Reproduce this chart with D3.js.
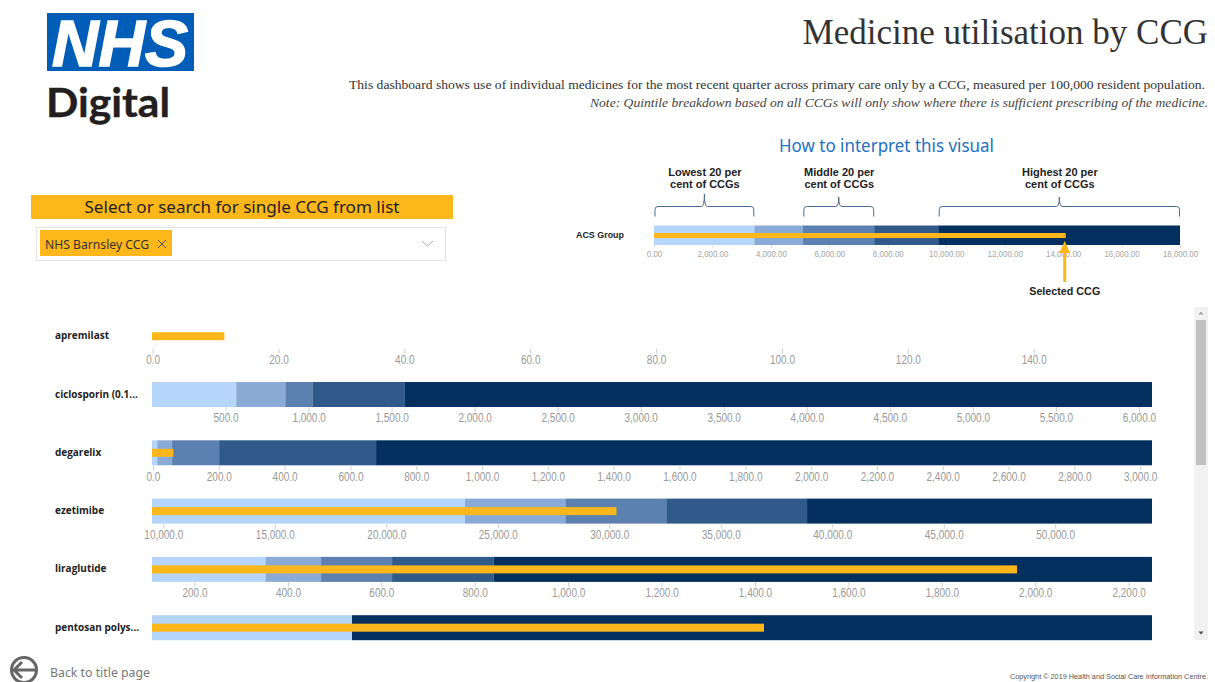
<!DOCTYPE html>
<html><head><meta charset="utf-8">
<script src="https://cdn.jsdelivr.net/npm/d3@7/dist/d3.min.js"></script>
<style>html,body{margin:0;padding:0;background:#fff;overflow:hidden}svg{display:block}</style>
</head><body><svg id="c" width="1215" height="682"></svg>
<script>
// ---- data ----
const medicines = ["apremilast","ciclosporin (0.1...","degarelix","ezetimibe","liraglutide","pentosan polys..."];
const domainStart = [-0.1, 57, -3, 9493, 109, 0];
const domainEnd   = [158.8, 6079, 3036, 54340, 2250, 1000];
const tickStep    = [20, 500, 200, 5000, 200, 0];
const band1 = [null, 564, 13, 23529, 352, 200];
const band2 = [null, 860, 58, 28031, 471, 200];
const band3 = [null, 1023, 201, 32556, 623, 200];
const band4 = [null, 1580, 678, 38870, 840, 200];
const selected = [11.4, null, 62, 30323, 1961, 612];
const bandColours = ["#b5d5fb","#8aabd6","#5c80b0","#2f5a8a","#03305f"];
const orange = "#fdb71a";

const exampleBands = [3432, 5093, 7534, 9726];
const exampleMax = 18000, exampleSelected = 14090;
const exampleTicks = [0,2000,4000,6000,8000,10000,12000,14000,16000,18000];
const braces = [
  {from:0, to:3432, lines:["Lowest 20 per","cent of CCGs"], top:194},
  {from:5093, to:7534, lines:["Middle 20 per","cent of CCGs"], top:197},
  {from:9726, to:18000, lines:["Highest 20 per","cent of CCGs"], top:197}
];

const svg = d3.select("#c");
const sans = "'Liberation Sans',Arial,sans-serif", ui = "'Noto Sans',sans-serif", serif = "'Liberation Serif',serif";
function txt(s,x,y,size,fill,opt={}){
  const t = svg.append("text").attr("x",x).attr("y",y).text(s)
    .style("font-family",opt.family||ui).style("font-size",size+"px").style("fill",fill)
    .style("font-weight",opt.weight||"normal").style("font-style",opt.italic?"italic":"normal")
    .attr("text-anchor",opt.anchor||"start").attr("dominant-baseline",opt.base||"auto");
  if(opt.width) t.attr("textLength",opt.width).attr("lengthAdjust","spacingAndGlyphs");
  return t;
}
function squeeze(sel,k){ sel.each(function(){ const w=this.getComputedTextLength();
  d3.select(this).attr("textLength",w*k).attr("lengthAdjust","spacingAndGlyphs"); }); }

// logo
svg.append("rect").attr("x",47).attr("y",13).attr("width",147).attr("height",58).attr("fill","#005eb8");
txt("NHS",52,66,64,"#fff",{family:sans,weight:"bold",italic:true,width:136}).style("stroke","#fff").style("stroke-width",1.6);
txt("Digital",46,117,40,"#231f20",{family:"Lato,sans-serif",weight:"bold",width:124}).style("stroke","#231f20").style("stroke-width",0.4);

// header
txt("Medicine utilisation by CCG",1208,44,35,"#333",{family:serif,anchor:"end"});
txt("This dashboard shows use of individual medicines for the most recent quarter across primary care only by a CCG, measured per 100,000 resident population.",1205,89,13.2,"#333",{family:serif,anchor:"end",width:856});
txt("Note: Quintile breakdown based on all CCGs will only show where there is sufficient prescribing of the medicine.",1208,107,13.2,"#444",{family:serif,anchor:"end",italic:true,width:618});
txt("How to interpret this visual",779,152,17.5,"#2470c2",{family:ui,width:215});

// slicer
svg.append("rect").attr("x",31).attr("y",195).attr("width",422).attr("height",24).attr("fill",orange);
txt("Select or search for single CCG from list",242,213,16.5,"#222",{anchor:"middle",width:315});
svg.append("rect").attr("x",36.5).attr("y",227.5).attr("width",409).attr("height",33).attr("fill","#fff").attr("stroke","#e4e4e4");
svg.append("rect").attr("x",40).attr("y",230).attr("width",132).attr("height",26).attr("fill",orange);
txt("NHS Barnsley CCG",45,249,12.5,"#333",{width:104});
svg.append("path").attr("d","M158,240L166,248M166,240L158,248").attr("stroke","#555").attr("fill","none");
svg.append("path").attr("d","M422,241L427.5,246L433,241").attr("stroke","#aaa").attr("fill","none");

// example bullet
const ex = d3.scaleLinear().domain([0,exampleMax]).range([654,1180]);
const exY = 225.5, exH = 19.5;
[0,...exampleBands].forEach((b,i)=>{
  const e = i<exampleBands.length?exampleBands[i]:exampleMax;
  svg.append("rect").attr("x",ex(b)).attr("y",exY).attr("width",ex(e)-ex(b)).attr("height",exH).attr("fill",bandColours[i]);
});
svg.append("rect").attr("x",ex(0)).attr("y",233).attr("width",ex(exampleSelected)-ex(0)).attr("height",5).attr("fill",orange);
const exAxis = svg.append("g").attr("transform",`translate(0,${exY+exH})`)
  .call(d3.axisBottom(ex).tickValues(exampleTicks).tickFormat(d3.format(",.2f")).tickSize(3).tickPadding(3));
exAxis.select(".domain").remove();
exAxis.selectAll("line").attr("stroke","#ddd");
exAxis.selectAll("text").style("font-family",sans).style("font-size","9px").style("fill","#a5a5a5").call(squeeze,0.88);
txt("ACS Group",600,237.5,9,"#222",{family:sans,weight:"bold",anchor:"middle",width:48});
braces.forEach(b=>{
  const x0=ex(b.from)+1, x1=ex(b.to)-0.5, m=(x0+x1)/2, y=206.5, bot=216.5, r=3;
  svg.append("path").attr("fill","none").attr("stroke","#4a6a92").attr("stroke-width",1)
    .attr("d",`M${x0},${bot}V${y+r}Q${x0},${y} ${x0+r},${y}H${m-3}Q${m},${y} ${m},${b.top}Q${m},${y} ${m+3},${y}H${x1-r}Q${x1},${y} ${x1},${y+r}V${bot}`);
  b.lines.forEach((l,i)=>txt(l,m+0.5,176+i*12,11,"#222",{family:sans,weight:"bold",anchor:"middle"}));
});
const ax = ex(exampleSelected)-1;
svg.append("path").attr("fill","none").attr("stroke",orange).attr("stroke-width",3).attr("d",`M${ax},282V246`);
svg.append("path").attr("fill",orange).attr("d",`M${ax},241L${ax-5.5},253H${ax+5.5}Z`);
txt("Selected CCG",ax,295,10,"#222",{family:sans,weight:"bold",anchor:"middle",width:71});

// medicine rows
const rowTop = d3.scaleLinear().domain([0,1]).range([323.7,382]);
const left = 152, right = 1152, rowH = 25;
const rows = svg.append("g");
medicines.forEach((m,i)=>{
  const x = d3.scaleLinear().domain([domainStart[i],domainEnd[i]]).range([left,right]);
  const top = rowTop(i);
  const g = rows.append("g").attr("transform",`translate(0,${top})`);
  if(band1[i]!==null){
    const edges=[domainStart[i],band1[i],band2[i],band3[i],band4[i],domainEnd[i]];
    bandColours.forEach((c,k)=>g.append("rect").attr("x",x(edges[k])).attr("y",0)
      .attr("width",x(edges[k+1])-x(edges[k])).attr("height",rowH).attr("fill",c));
  }
  if(selected[i]!==null)
    g.append("rect").attr("x",left).attr("y",8.5).attr("width",x(selected[i])-left).attr("height",8).attr("fill",orange);
  if(tickStep[i]>0){
    const first=Math.ceil(domainStart[i]/tickStep[i])*tickStep[i];
    const a=g.append("g").attr("transform",`translate(0,${rowH})`)
      .call(d3.axisBottom(x).tickValues(d3.range(Math.max(first,0),domainEnd[i],tickStep[i])).tickFormat(d3.format(",.1f")).tickSize(5).tickPadding(1.5));
    a.select(".domain").remove();
    a.selectAll("line").attr("stroke","#d0d0d0");
    a.selectAll("text").style("font-family",sans).style("font-size","12.5px").style("fill","#999").call(squeeze,0.8);
  }
  txt(m,55,top+15.5,10.5,"#222",{family:"'Open Sans',sans-serif",weight:"bold"}).call(squeeze,0.95);
});

// scrollbar
svg.append("rect").attr("x",1194).attr("y",307).attr("width",14).attr("height",333).attr("fill","#f1f1f1");
svg.append("rect").attr("x",1196).attr("y",320).attr("width",10).attr("height",145).attr("fill","#c1c1c1");
svg.append("path").attr("fill","#505050").attr("d","M1198.5,631.5h5l-2.5,3z");
svg.append("path").attr("fill","#a0a0a0").attr("d","M1198.5,314.5h5l-2.5,-3z");

// footer
svg.append("circle").attr("cx",24).attr("cy",670).attr("r",12.5).attr("fill","none").attr("stroke","#666").attr("stroke-width",3);
svg.append("path").attr("fill","none").attr("stroke","#666").attr("stroke-width",3).attr("d","M35,670H14M22,662L14,670L22,678");
txt("Back to title page",50,677,12.5,"#777",{width:100});
txt("Copyright © 2019 Health and Social Care Information Centre.",1208,679,7.5,"#555",{family:sans,anchor:"end",width:198});
</script></body></html>
